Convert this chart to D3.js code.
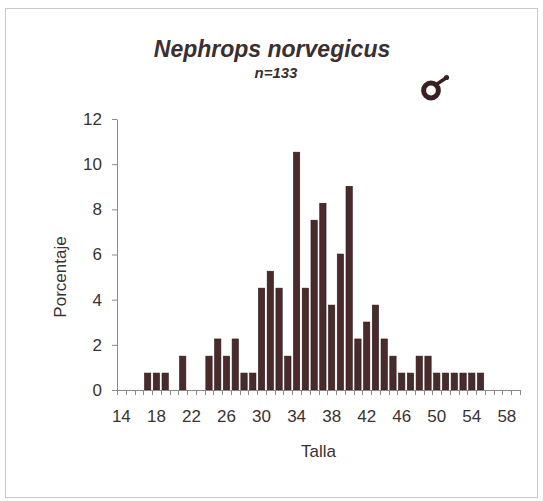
<!DOCTYPE html>
<html>
<head>
<meta charset="utf-8">
<script src="https://cdn.jsdelivr.net/npm/d3@7"></script>
<style>
  html, body { margin: 0; padding: 0; background: #ffffff; }
  svg { display: block; }
</style>
</head>
<body>
<script>
// ---- data ----
const categories = [14,15,16,17,18,19,20,21,22,23,24,25,26,27,28,29,30,31,32,33,34,35,36,37,38,39,40,41,42,43,44,45,46,47,48,49,50,51,52,53,54,55,56,57,58,59];
const percentages = [0,0,0,0.75,0.75,0.75,0,1.5,0,0,1.5,2.26,1.5,2.26,0.75,0.75,4.51,5.26,4.51,1.5,10.53,4.51,7.52,8.27,3.76,6.02,9.02,2.26,3.01,3.76,2.26,1.5,0.75,0.75,1.5,1.5,0.75,0.75,0.75,0.75,0.75,0.75,0,0,0,0];
const yTicks = [0,2,4,6,8,10,12];
const xTickLabels = [14,18,22,26,30,34,38,42,46,50,54,58];
const chartTitle = "Nephrops norvegicus";
const chartSubtitle = "n=133";
const xTitle = "Talla";
const yTitle = "Porcentaje";

// ---- layout ----
const W = 543, H = 501;
const mLeft = 117, mRight = 520, mTop = 119, mBottom = 390;
const font = "Arial, 'Liberation Sans', sans-serif";
const textColor = "#3a3232";
const barColor = "#4a2b2b";
const axisColor = "#8a8a8a";

const svg = d3.select("body").append("svg").attr("width", W).attr("height", H);

// frame
svg.append("rect").attr("x", 5.5).attr("y", 8.5).attr("width", 532).attr("height", 489)
  .attr("fill", "#ffffff").attr("stroke", "#c9c9c9").attr("stroke-width", 1);

const x = d3.scaleBand().domain(categories).range([mLeft, mRight]).paddingInner(0).paddingOuter(0);
const y = d3.scaleLinear().domain([0, 12]).range([mBottom, mTop]);

// bars
const bw = x.bandwidth() * 0.72;
svg.append("g").selectAll("rect").data(categories.map((c, i) => ({c, v: percentages[i]})).filter(d => d.v > 0))
  .join("rect")
  .attr("x", d => x(d.c) + (x.bandwidth() - bw) / 2)
  .attr("y", d => y(d.v))
  .attr("width", bw)
  .attr("height", d => y(0) - y(d.v))
  .attr("fill", barColor)
  .attr("stroke", "#2e1818")
  .attr("stroke-width", 0.6);

// y axis
const yAxis = svg.append("g").attr("transform", `translate(${mLeft},0)`)
  .call(d3.axisLeft(y).tickValues(yTicks).tickSize(5).tickPadding(10).tickSizeOuter(0));
yAxis.select(".domain").attr("stroke", axisColor);
yAxis.selectAll(".tick line").attr("stroke", axisColor);
yAxis.selectAll(".tick text").attr("font-family", font).attr("font-size", 17).attr("fill", textColor);

// x axis: ticks at category boundaries
const boundaries = categories.map(c => x(c)).concat([x(categories[categories.length - 1]) + x.bandwidth()]);
const xg = svg.append("g");
xg.append("line").attr("x1", mLeft).attr("x2", boundaries[boundaries.length - 1])
  .attr("y1", mBottom + 0.5).attr("y2", mBottom + 0.5).attr("stroke", axisColor);
xg.selectAll("line.tk").data(boundaries).join("line").attr("class", "tk")
  .attr("x1", d => Math.round(d) + 0.5).attr("x2", d => Math.round(d) + 0.5)
  .attr("y1", mBottom).attr("y2", mBottom + 5).attr("stroke", axisColor);
xg.selectAll("text").data(xTickLabels).join("text")
  .attr("x", d => x(d) + x.bandwidth() / 2)
  .attr("y", 422)
  .attr("text-anchor", "middle")
  .attr("font-family", font).attr("font-size", 17).attr("fill", textColor)
  .text(d => d);

// axis titles
svg.append("text").attr("x", (mLeft + mRight) / 2).attr("y", 457).attr("text-anchor", "middle")
  .attr("font-family", font).attr("font-size", 17).attr("fill", textColor).text(xTitle);
svg.append("text").attr("transform", "translate(66,277) rotate(-90)").attr("text-anchor", "middle")
  .attr("font-family", font).attr("font-size", 17).attr("fill", textColor).text(yTitle);

// titles
svg.append("text").attr("x", 272).attr("y", 57).attr("text-anchor", "middle")
  .attr("font-family", font).attr("font-size", 23).attr("font-weight", "bold").attr("font-style", "italic")
  .attr("fill", "#3a3030").text(chartTitle);
svg.append("text").attr("x", 276).attr("y", 78).attr("text-anchor", "middle")
  .attr("font-family", font).attr("font-size", 15).attr("font-weight", "bold").attr("font-style", "italic")
  .attr("fill", "#3a3030").text(chartSubtitle);

// male symbol
const sym = svg.append("g").attr("fill", "none").attr("stroke", "#3a2020");
sym.append("circle").attr("cx", 431).attr("cy", 90.5).attr("r", 7.4).attr("stroke-width", 5);
sym.append("line").attr("x1", 437).attr("y1", 84).attr("x2", 446).attr("y2", 78).attr("stroke-width", 3.4);
svg.append("circle").attr("cx", 446.5).attr("cy", 77.5).attr("r", 2.6).attr("fill", "#3a2020");
</script>
</body>
</html>
